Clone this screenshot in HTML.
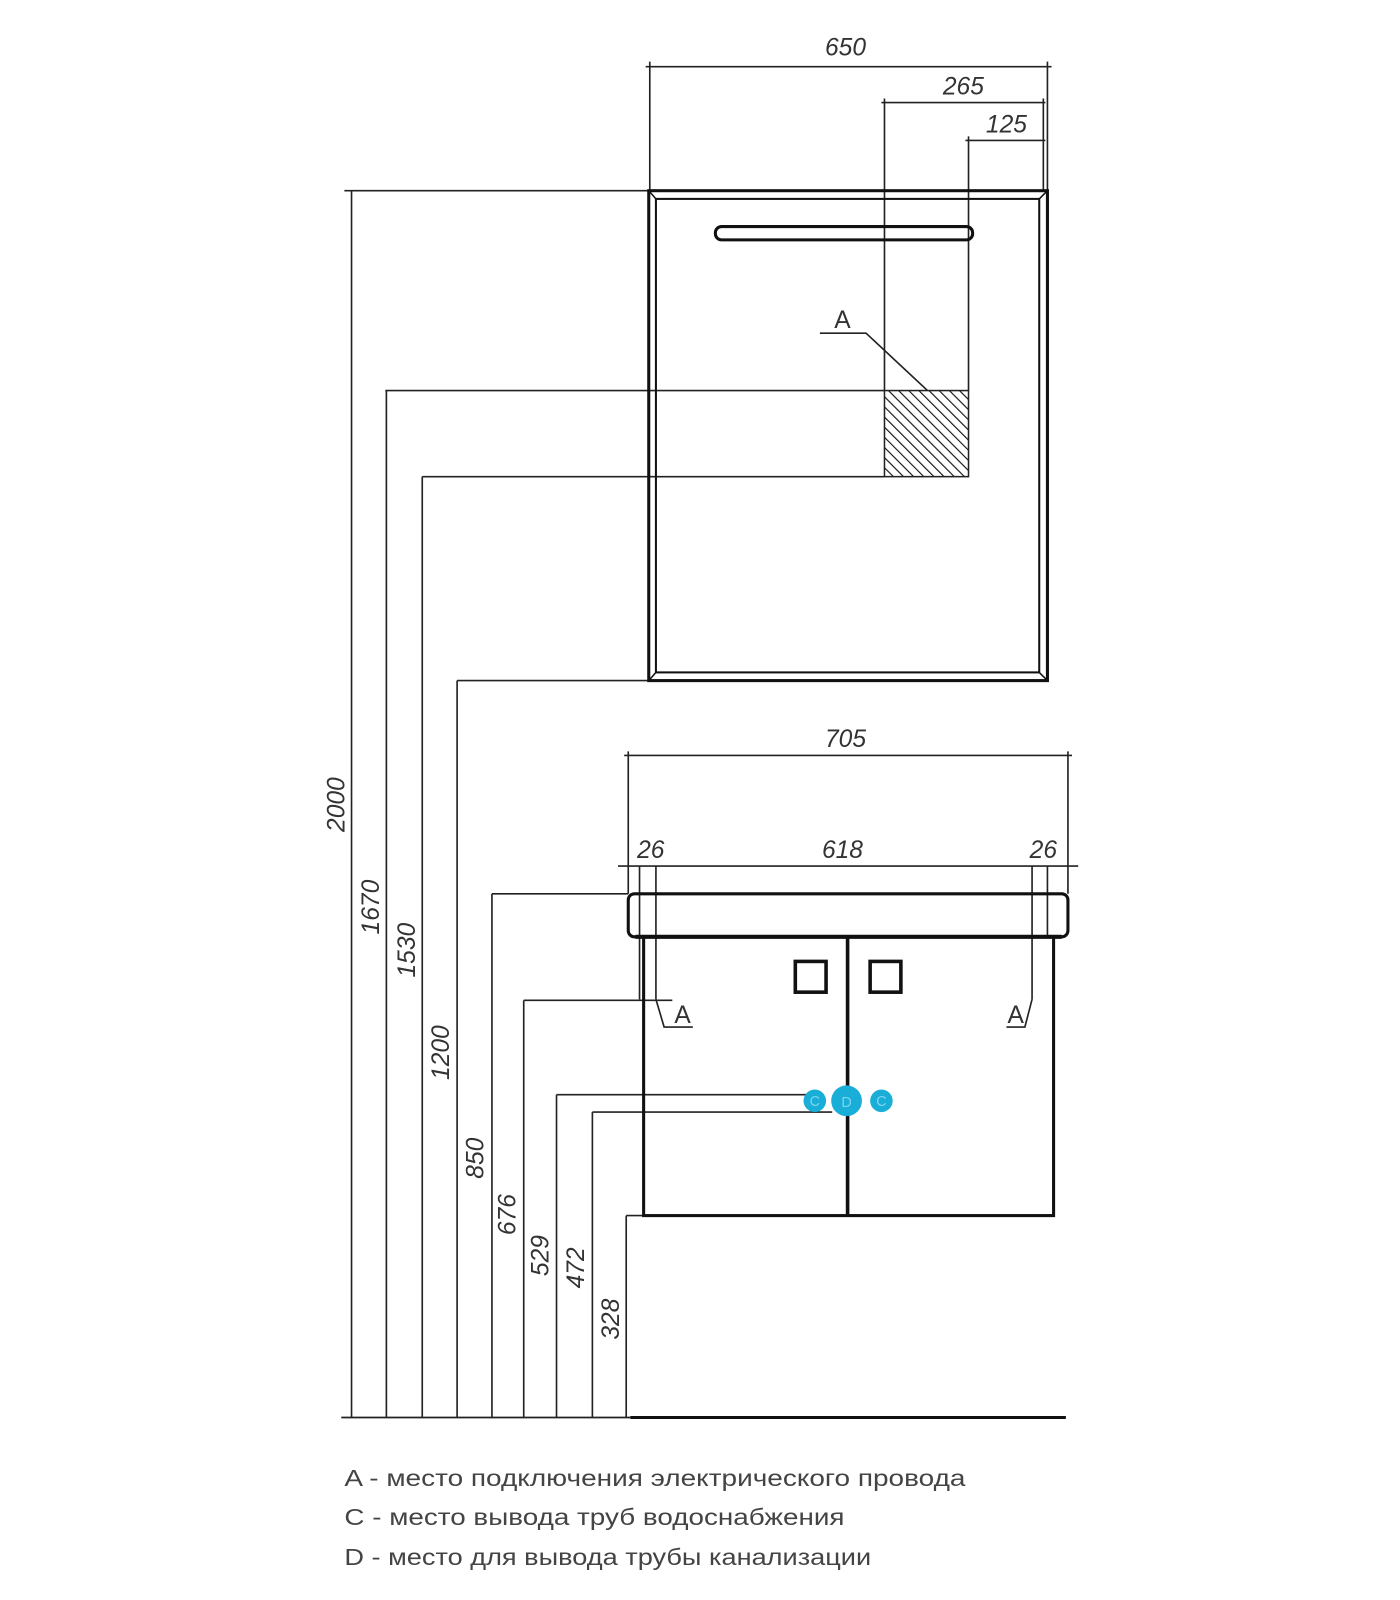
<!DOCTYPE html>
<html><head><meta charset="utf-8"><style>html,body{margin:0;padding:0;background:#fff}svg{display:block}</style></head><body>
<svg width="1400" height="1600" viewBox="0 0 1366 1561" xmlns="http://www.w3.org/2000/svg" font-family="Liberation Sans, DejaVu Sans, sans-serif">
<defs>
<pattern id="h" width="7" height="7" patternUnits="userSpaceOnUse" patternTransform="rotate(-45)">
<line x1="0" y1="0" x2="0" y2="7" stroke="#111" stroke-width="2.2"/></pattern>
</defs>
<g stroke="#222" fill="none" stroke-width="1.6">
<line x1="634" y1="60" x2="634" y2="186"/><line x1="1022" y1="60" x2="1022" y2="186"/>
<line x1="630" y1="65" x2="1026" y2="65"/>
<line x1="863" y1="96" x2="863" y2="381"/><line x1="860" y1="100" x2="1020" y2="100"/><line x1="1018" y1="96" x2="1018" y2="186"/>
<line x1="945" y1="133" x2="945" y2="381"/><line x1="942" y1="137" x2="1020" y2="137"/>
<line x1="336" y1="186" x2="634" y2="186"/><line x1="343" y1="186" x2="343" y2="1383"/>
<line x1="376" y1="381" x2="863" y2="381"/><line x1="377" y1="381" x2="377" y2="1383"/>
<line x1="412" y1="465" x2="863" y2="465"/><line x1="412" y1="465" x2="412" y2="1383"/>
<line x1="446" y1="664" x2="634" y2="664"/><line x1="446" y1="664" x2="446" y2="1383"/>
<line x1="480" y1="872" x2="613" y2="872"/><line x1="480" y1="872" x2="480" y2="1383"/>
<line x1="511" y1="976" x2="656" y2="976"/><line x1="511" y1="976" x2="511" y2="1383"/>
<line x1="543" y1="1068" x2="790" y2="1068"/><line x1="543" y1="1068" x2="543" y2="1383"/>
<line x1="578" y1="1085" x2="812" y2="1085"/><line x1="578" y1="1085" x2="578" y2="1383"/>
<line x1="611" y1="1186" x2="628" y2="1186"/><line x1="611" y1="1186" x2="611" y2="1383"/>
<line x1="333" y1="1383" x2="615" y2="1383"/>
<line x1="613" y1="733" x2="613" y2="872"/><line x1="1042" y1="733" x2="1042" y2="872"/>
<line x1="609" y1="737" x2="1046" y2="737"/>
<line x1="603" y1="845" x2="1052" y2="845"/>
<line x1="624" y1="845" x2="624" y2="975"/><line x1="640" y1="845" x2="640" y2="975"/>
<line x1="1007" y1="845" x2="1007" y2="975"/><line x1="1022" y1="845" x2="1022" y2="915"/>
<polyline points="640,975 648,1002 676,1002"/>
<polyline points="1007,975 1000,1002 982,1002"/>
<polyline points="800,325 845,325 905,381"/>
</g>
<line x1="615" y1="1383" x2="1040" y2="1383" stroke="#111" stroke-width="3"/>
<rect x="633" y="186" width="389" height="478" fill="none" stroke="#111" stroke-width="3"/>
<rect x="640" y="194" width="374" height="462" fill="none" stroke="#111" stroke-width="2"/>
<g stroke="#111" stroke-width="1.5"><line x1="633" y1="186" x2="640" y2="194"/><line x1="1022" y1="186" x2="1014" y2="194"/><line x1="633" y1="664" x2="640" y2="656"/><line x1="1022" y1="664" x2="1014" y2="656"/></g>
<rect x="698" y="221" width="251" height="13" rx="6" fill="none" stroke="#111" stroke-width="3"/>
<rect x="863" y="381" width="82" height="84" fill="url(#h)" stroke="#222" stroke-width="1.5"/>
<rect x="613" y="872" width="429" height="42" rx="6" fill="none" stroke="#111" stroke-width="3"/>
<line x1="620" y1="914" x2="1036" y2="914" stroke="#111" stroke-width="4"/>
<rect x="628" y="914" width="400" height="272" fill="none" stroke="#111" stroke-width="3"/>
<line x1="827" y1="914" x2="827" y2="1186" stroke="#111" stroke-width="3.5"/>
<rect x="776" y="938" width="30" height="30" fill="none" stroke="#111" stroke-width="3.5"/>
<rect x="849" y="938" width="30" height="30" fill="none" stroke="#111" stroke-width="3.5"/>
<g fill="#19aed8"><circle cx="795" cy="1074" r="11"/><circle cx="826" cy="1074" r="15"/><circle cx="860" cy="1074" r="11"/></g>
<g fill="#7fd4ee" font-size="14" text-anchor="middle"><text x="795" y="1079">C</text><text x="826" y="1080">D</text><text x="860" y="1079">C</text></g>
<g fill="#333" font-size="24" font-style="italic" text-anchor="middle">
<text x="825" y="54">650</text><text x="940" y="92">265</text><text x="982" y="129">125</text>
<text x="825" y="729">705</text><text x="635" y="837">26</text><text x="822" y="837">618</text><text x="1018" y="837">26</text>
<text x="822" y="320" font-style="normal">A</text>
<text x="666" y="998" font-style="normal">A</text><text x="991" y="998" font-style="normal">A</text>
<text transform="translate(336,785) rotate(-90)">2000</text>
<text transform="translate(370,885) rotate(-90)">1670</text>
<text transform="translate(405,927) rotate(-90)">1530</text>
<text transform="translate(438,1027) rotate(-90)">1200</text>
<text transform="translate(472,1130) rotate(-90)">850</text>
<text transform="translate(503,1185) rotate(-90)">676</text>
<text transform="translate(535,1225) rotate(-90)">529</text>
<text transform="translate(570,1237) rotate(-90)">472</text>
<text transform="translate(604,1287) rotate(-90)">328</text>
</g>
<g fill="#444" font-size="23">
<text x="336" y="1450" textLength="606" lengthAdjust="spacingAndGlyphs">A - место подключения электрического провода</text>
<text x="336" y="1488" textLength="488" lengthAdjust="spacingAndGlyphs">C - место вывода труб водоснабжения</text>
<text x="336" y="1527" textLength="514" lengthAdjust="spacingAndGlyphs">D - место для вывода трубы канализации</text>
</g>
</svg>
</body></html>
